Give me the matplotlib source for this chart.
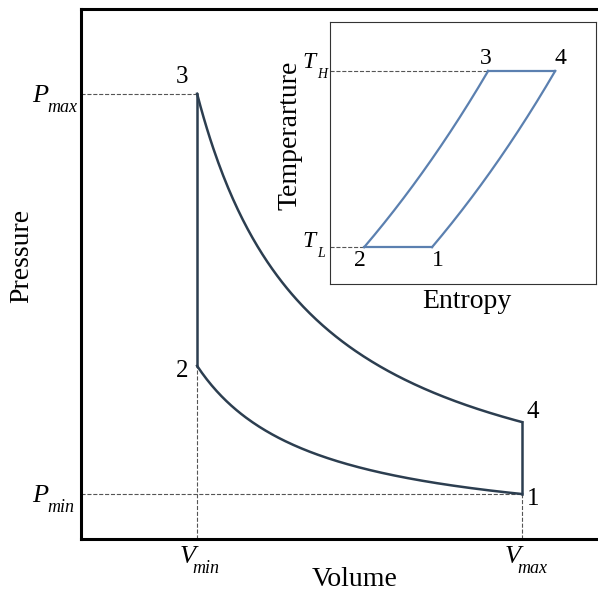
import numpy as np
import matplotlib
matplotlib.use('Agg')
import matplotlib.pyplot as plt

plt.rcParams['font.family'] = 'Liberation Serif'

# P-V states of the Otto cycle (1..4)
state_labels = ['1', '2', '3', '4']
volume = [3.8, 1.0, 1.0, 3.8]
pressure = [1.0, 3.85, 9.9, 2.6]

# T-s states (1..4)
entropy = [0.383, 0.128, 0.594, 0.846]
temperature = [1.0, 1.0, 1.45, 1.45]

main_color = '#2c3e50'
inset_color = '#5b80b0'
dash_color = '#555555'

W, H = 598, 592
fig = plt.figure(figsize=(W / 100, H / 100), dpi=100)
ax = fig.add_axes([0.1355, 0.0895, 0.885, 0.895])


def px_text(x, y, s, **kw):
    # place text by pixel position (y from top)
    fig.text(x / W, 1 - y / H, s, **kw)


def sub_label(x, y, main, sub, size, sub_size, dx, dy):
    px_text(x, y, main, fontsize=size, style='italic', ha='left', va='baseline')
    px_text(x + dx, y + dy, sub, fontsize=sub_size, style='italic', ha='left', va='baseline')


def adiabat(va, pa, vb, pb):
    # P V^n = const through the two states
    n = np.log(pa / pb) / np.log(vb / va)
    v = np.linspace(va, vb, 200)
    return v, pa * (va / v) ** n


v12, p12 = adiabat(volume[1], pressure[1], volume[0], pressure[0])
v34, p34 = adiabat(volume[2], pressure[2], volume[3], pressure[3])
ax.plot(v12, p12, color=main_color, lw=1.8)
ax.plot(v34, p34, color=main_color, lw=1.8)
ax.plot([volume[1], volume[2]], [pressure[1], pressure[2]], color=main_color, lw=1.8)
ax.plot([volume[3], volume[0]], [pressure[3], pressure[0]], color=main_color, lw=1.8)

ax.set_xlim(0, 4.56)
ax.set_ylim(0, 11.78)

# dashed guides
ax.plot([0, volume[2]], [pressure[2], pressure[2]], ls='--', color=dash_color, lw=0.8, zorder=0)
ax.plot([0, volume[0]], [pressure[0], pressure[0]], ls='--', color=dash_color, lw=0.8, zorder=0)
ax.plot([volume[1], volume[1]], [0, pressure[1]], ls='--', color=dash_color, lw=0.8, zorder=0)
ax.plot([volume[0], volume[0]], [0, pressure[0]], ls='--', color=dash_color, lw=0.8, zorder=0)

for s in ax.spines.values():
    s.set_linewidth(2.2)
ax.set_xticks([])
ax.set_yticks([])

# state numbers
num_offsets = [(11, -5), (-15, -5), (-15, 17), (11, 10)]
for lab, v, p, off in zip(state_labels, volume, pressure, num_offsets):
    ax.annotate(lab, (v, p), xytext=off, textcoords='offset pixels',
                fontsize=18, ha='center', va='center')

# axis marks
sub_label(32, 102, 'P', 'max', 19, 13, 15, 10)
sub_label(32, 502, 'P', 'min', 19, 13, 15, 10)
sub_label(180, 563, 'V', 'min', 19, 13, 12, 10)
sub_label(505, 563, 'V', 'max', 19, 13, 12, 10)
px_text(355, 579, 'Volume', fontsize=20, ha='center', va='center')
px_text(22, 256, 'Pressure', fontsize=20, ha='center', va='center', rotation=90)

# T-s inset
ins = fig.add_axes([0.552, 0.520, 0.445, 0.443])
ins.set_xlim(0, 1)
span = (temperature[2] - temperature[0]) / (0.813 - 0.141)
ins.set_ylim(temperature[0] - 0.141 * span, temperature[0] + 0.859 * span)


def isochore(sa, ta, sb, tb):
    cv = (sb - sa) / np.log(tb / ta)
    s = np.linspace(sa, sb, 200)
    return s, ta * np.exp((s - sa) / cv)


s23, t23 = isochore(entropy[1], temperature[1], entropy[2], temperature[2])
s14, t14 = isochore(entropy[0], temperature[0], entropy[3], temperature[3])
ins.plot(s23, t23, color=inset_color, lw=1.6)
ins.plot(s14, t14, color=inset_color, lw=1.6)
ins.plot([entropy[1], entropy[0]], [temperature[1], temperature[0]], color=inset_color, lw=1.6)
ins.plot([entropy[2], entropy[3]], [temperature[2], temperature[3]], color=inset_color, lw=1.6)
ins.plot([0, entropy[2]], [temperature[2], temperature[2]], ls='--', color=dash_color, lw=0.8, zorder=0)
ins.plot([0, entropy[1]], [temperature[1], temperature[1]], ls='--', color=dash_color, lw=0.8, zorder=0)
ins.set_xticks([])
ins.set_yticks([])
for s in ins.spines.values():
    s.set_linewidth(0.8)
    s.set_color('#333333')

ins_offsets = [(6, -13), (-4, -13), (-2, 12), (5, 12)]
for lab, s_, t_, off in zip(state_labels, entropy, temperature, ins_offsets):
    ins.annotate(lab, (s_, t_), xytext=off, textcoords='offset pixels',
                 fontsize=17, ha='center', va='center')

sub_label(302, 68, 'T', 'H', 17, 10, 15, 10)
sub_label(302, 247, 'T', 'L', 17, 10, 15, 10)
px_text(290, 135, 'Temperarture', fontsize=20, ha='center', va='center', rotation=90)
px_text(467, 302, 'Entropy', fontsize=20, ha='center', va='center')

fig.savefig('out.png', dpi=100)
